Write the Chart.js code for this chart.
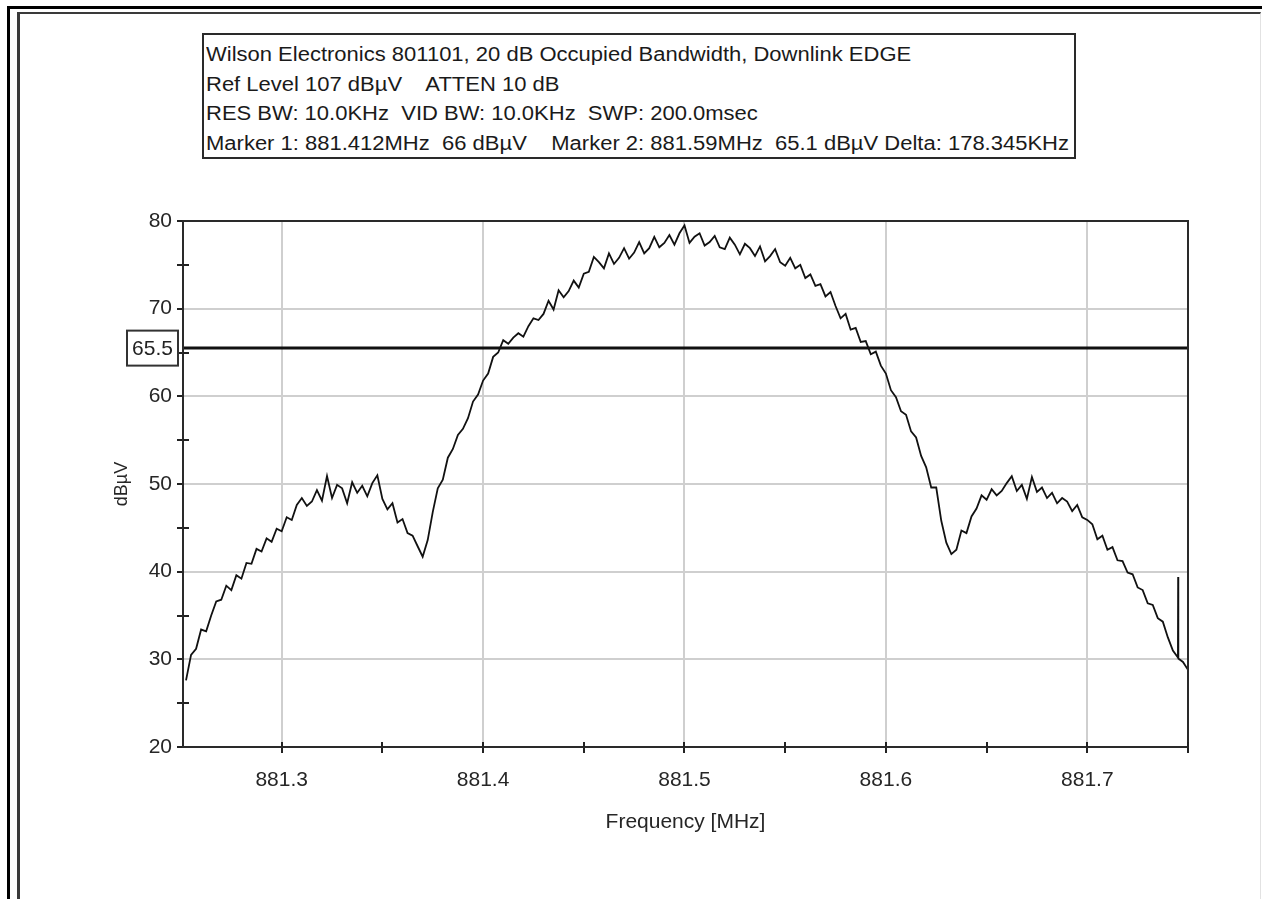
<!DOCTYPE html>
<html>
<head>
<meta charset="utf-8">
<script src="https://cdn.jsdelivr.net/npm/chart.js@4.4.1/dist/chart.umd.min.js"></script>
<style>
  html, body { margin: 0; padding: 0; background: #fff; }
  #wrap { position: relative; width: 1262px; height: 899px; overflow: hidden; background: #fff; }
  #outer { position: absolute; left: 7px; top: 6px; width: 1400px; height: 1000px; border-left: 3px solid #000; border-top: 3px solid #000; }
  #inner { position: absolute; left: 17px; top: 12px; width: 1240px; height: 1000px; border-left: 3px solid #3a3a3a; border-top: 2px solid #3a3a3a; border-right: 1px solid #e2e2e2; }
  #c { position: absolute; left: 0; top: 0; }
  #info { position: absolute; left: 202px; top: 33px; width: 870px; height: 122px; border: 2px solid #2a2a2a; background: #fff;
          font-family: "Liberation Sans", Arial, sans-serif; font-size: 20px; color: #1a1a1a; }
  #info .ln { position: absolute; left: 2px; white-space: pre; transform-origin: 0 50%; transform: scaleX(1.1); line-height: 24px; }
</style>
</head>
<body>
<div id="wrap">
  <div id="outer"></div>
  <div id="inner"></div>
  <canvas id="c" width="1262" height="899"></canvas>
  <div id="info"></div>
</div>
<script>
// ---------- data ----------
const infoLines = [
  "Wilson Electronics 801101, 20 dB Occupied Bandwidth, Downlink EDGE",
  "Ref Level 107 dB\u00b5V    ATTEN 10 dB",
  "RES BW: 10.0KHz  VID BW: 10.0KHz  SWP: 200.0msec",
  "Marker 1: 881.412MHz  66 dB\u00b5V    Marker 2: 881.59MHz  65.1 dB\u00b5V Delta: 178.345KHz"
];
const xTitle = "Frequency [MHz]";
const yTitle = "dB\u00b5V";

const frequencies = [
  881.2525, 881.2550, 881.2575, 881.2600, 881.2625, 881.2650, 881.2675, 881.2700, 881.2725, 881.2750,
  881.2775, 881.2800, 881.2825, 881.2850, 881.2875, 881.2900, 881.2925, 881.2950, 881.2975, 881.3000,
  881.3025, 881.3050, 881.3075, 881.3100, 881.3125, 881.3150, 881.3175, 881.3200, 881.3225, 881.3250,
  881.3275, 881.3300, 881.3325, 881.3350, 881.3375, 881.3400, 881.3425, 881.3450, 881.3475, 881.3500,
  881.3525, 881.3550, 881.3575, 881.3600, 881.3625, 881.3650, 881.3675, 881.3700, 881.3725, 881.3750,
  881.3775, 881.3800, 881.3825, 881.3850, 881.3875, 881.3900, 881.3925, 881.3950, 881.3975, 881.4000,
  881.4025, 881.4050, 881.4075, 881.4100, 881.4125, 881.4150, 881.4175, 881.4200, 881.4225, 881.4250,
  881.4275, 881.4300, 881.4325, 881.4350, 881.4375, 881.4400, 881.4425, 881.4450, 881.4475, 881.4500,
  881.4525, 881.4550, 881.4575, 881.4600, 881.4625, 881.4650, 881.4675, 881.4700, 881.4725, 881.4750,
  881.4775, 881.4800, 881.4825, 881.4850, 881.4875, 881.4900, 881.4925, 881.4950, 881.4975, 881.5000,
  881.5025, 881.5050, 881.5075, 881.5100, 881.5125, 881.5150, 881.5175, 881.5200, 881.5225, 881.5250,
  881.5275, 881.5300, 881.5325, 881.5350, 881.5375, 881.5400, 881.5425, 881.5450, 881.5475, 881.5500,
  881.5525, 881.5550, 881.5575, 881.5600, 881.5625, 881.5650, 881.5675, 881.5700, 881.5725, 881.5750,
  881.5775, 881.5800, 881.5825, 881.5850, 881.5875, 881.5900, 881.5925, 881.5950, 881.5975, 881.6000,
  881.6025, 881.6050, 881.6075, 881.6100, 881.6125, 881.6150, 881.6175, 881.6200, 881.6225, 881.6250,
  881.6275, 881.6300, 881.6325, 881.6350, 881.6375, 881.6400, 881.6425, 881.6450, 881.6475, 881.6500,
  881.6525, 881.6550, 881.6575, 881.6600, 881.6625, 881.6650, 881.6675, 881.6700, 881.6725, 881.6750,
  881.6775, 881.6800, 881.6825, 881.6850, 881.6875, 881.6900, 881.6925, 881.6950, 881.6975, 881.7000,
  881.7025, 881.7050, 881.7075, 881.7100, 881.7125, 881.7150, 881.7175, 881.7200, 881.7225, 881.7250,
  881.7275, 881.7300, 881.7325, 881.7350, 881.7375, 881.7400, 881.7425, 881.7450, 881.7451, 881.7452,
  881.7475, 881.7500
];
const levels = [
  27.6, 30.5, 31.2, 33.4, 33.2, 35.0, 36.6, 36.8, 38.4, 37.9,
  39.6, 39.2, 41.0, 40.9, 42.6, 42.3, 43.8, 43.4, 44.9, 44.6,
  46.2, 45.9, 47.6, 48.4, 47.5, 48.0, 49.3, 48.1, 50.9, 48.4,
  49.9, 49.5, 47.8, 50.2, 49.0, 49.8, 48.6, 50.1, 51.0, 48.3,
  47.1, 47.8, 45.6, 46.0, 44.4, 44.1, 42.9, 41.7, 43.6, 46.8,
  49.5, 50.5, 53.0, 54.0, 55.6, 56.3, 57.5, 59.4, 60.2, 61.8,
  62.6, 64.5, 65.0, 66.4, 66.0, 66.7, 67.2, 66.8, 68.0, 68.9,
  68.7, 69.4, 70.9, 69.9, 72.1, 71.3, 72.0, 73.2, 72.4, 74.0,
  74.2, 75.9, 75.3, 74.6, 76.3, 75.1, 75.8, 76.9, 75.7, 76.4,
  77.6, 76.3, 76.9, 78.2, 77.0, 77.5, 78.4, 77.3, 78.6, 79.5,
  77.5, 78.2, 78.6, 77.2, 77.6, 78.3, 77.0, 76.8, 78.1, 77.3,
  76.2, 77.4, 76.9, 76.0, 77.1, 75.4, 76.0, 76.8, 75.3, 74.9,
  75.8, 74.6, 75.0, 73.5, 73.9, 72.6, 72.8, 71.4, 71.9, 70.3,
  68.9, 69.4, 67.6, 67.8, 66.2, 66.3, 64.8, 65.1, 63.5, 62.6,
  60.7, 59.9, 58.3, 57.9, 56.0, 55.3, 53.2, 51.9, 49.6, 49.6,
  45.8, 43.3, 42.0, 42.5, 44.7, 44.4, 46.3, 47.2, 48.7, 48.2,
  49.4, 48.7, 49.2, 50.1, 50.9, 49.2, 49.9, 48.3, 50.8, 49.1,
  49.6, 48.4, 49.0, 47.8, 48.4, 48.0, 46.9, 47.6, 46.2, 45.9,
  45.4, 43.7, 44.1, 42.5, 42.8, 41.3, 41.2, 39.9, 39.7, 38.2,
  37.9, 36.4, 36.2, 34.7, 34.3, 32.5, 31.0, 30.2, 39.4, 30.1,
  29.7, 28.8
];
const thresholdLevel = 65.5;
const xMin = 881.251, xMax = 881.75;
const yMin = 20, yMax = 80;
const xMajorTicks = [881.3, 881.4, 881.5, 881.6, 881.7];
const xMinorTicks = [881.35, 881.45, 881.55, 881.65, 881.75];
const yMajorTicks = [20, 30, 40, 50, 60, 70, 80];
const yMinorTicks = [25, 35, 45, 55, 65, 75];

// ---------- info box (real DOM text) ----------
const info = document.getElementById('info');
infoLines.forEach((t, i) => {
  const d = document.createElement('div');
  d.className = 'ln';
  d.style.top = (7 + i * 29.5) + 'px';
  d.textContent = t;
  info.appendChild(d);
});

// ---------- chart ----------
const FONT = '"Liberation Sans", Arial, sans-serif';
const isIn = (v, arr) => arr.some(a => Math.abs(a - v) < 1e-6);

const tracePoints = frequencies.map((f, i) => ({ x: f, y: levels[i] }));
const thresholdPoints = [{ x: xMin, y: thresholdLevel }, { x: xMax, y: thresholdLevel }];

const framePlugin = {
  id: 'framePlugin',
  afterDraw(chart) {
    const { ctx, chartArea: a, scales: { x, y } } = chart;
    ctx.save();
    ctx.strokeStyle = '#2a2a2a';
    ctx.lineWidth = 2;
    ctx.strokeRect(a.left, a.top, a.right - a.left, a.bottom - a.top);
    ctx.strokeStyle = '#222';
    ctx.beginPath();
    yMinorTicks.forEach(v => { const py = Math.round(y.getPixelForValue(v)); ctx.moveTo(a.left, py); ctx.lineTo(a.left + 6, py); });
    xMajorTicks.concat(xMinorTicks).forEach(v => { const px = Math.round(x.getPixelForValue(v)); ctx.moveTo(px, a.bottom); ctx.lineTo(px, a.bottom - 5); });
    ctx.stroke();
    // threshold label box
    const ty = y.getPixelForValue(thresholdLevel);
    const bw = 51, bh = 35, br = a.left - 5;
    ctx.fillStyle = '#fff';
    ctx.fillRect(br - bw, ty - bh / 2, bw, bh);
    ctx.lineWidth = 2;
    ctx.strokeStyle = '#333';
    ctx.strokeRect(br - bw, ty - bh / 2, bw, bh);
    ctx.fillStyle = '#222';
    ctx.font = '21px ' + FONT;
    ctx.textAlign = 'center';
    ctx.textBaseline = 'middle';
    ctx.fillText(String(thresholdLevel), br - bw / 2, ty + 1);
    ctx.restore();
  }
};

new Chart(document.getElementById('c'), {
  type: 'line',
  data: {
    datasets: [
      { data: tracePoints, borderColor: '#111', borderWidth: 1.8, pointRadius: 0, tension: 0, fill: false },
      { data: thresholdPoints, borderColor: '#111', borderWidth: 3, pointRadius: 0, tension: 0, fill: false }
    ]
  },
  options: {
    responsive: false,
    devicePixelRatio: 1,
    animation: false,
    events: [],
    layout: { padding: { left: 20, top: 221, right: 74, bottom: 0 } },
    plugins: { legend: { display: false }, tooltip: { enabled: false }, title: { display: false } },
    scales: {
      x: {
        type: 'linear',
        min: xMin, max: xMax,
        afterBuildTicks: s => { s.ticks = xMajorTicks.concat(xMinorTicks).sort((a, b) => a - b).map(v => ({ value: v })); },
        afterFit: s => { s.height = 152; },
        ticks: {
          autoSkip: false, maxRotation: 0, padding: 15,
          color: '#262626', font: { family: FONT, size: 21 },
          callback: v => isIn(v, xMajorTicks) ? v.toFixed(1) : ''
        },
        grid: {
          color: c => (c.tick && isIn(c.tick.value, xMajorTicks)) ? '#cfcfcf' : 'rgba(0,0,0,0)',
          lineWidth: 2, tickColor: '#222', tickLength: 6, tickWidth: 2, drawTicks: true
        },
        border: { display: true, color: '#2a2a2a', width: 2 },
        title: { display: true, text: xTitle, color: '#262626', font: { family: FONT, size: 21 }, padding: { top: 0, bottom: 64 } }
      },
      y: {
        type: 'linear',
        min: yMin, max: yMax,
        afterBuildTicks: s => { s.ticks = yMajorTicks.concat(yMinorTicks).sort((a, b) => a - b).map(v => ({ value: v })); },
        afterFit: s => { s.width = 163; },
        ticks: {
          autoSkip: false, padding: 5,
          color: '#262626', font: { family: FONT, size: 21 },
          callback: v => isIn(v, yMajorTicks) ? String(v) : ''
        },
        grid: {
          color: c => (c.tick && isIn(c.tick.value, yMajorTicks)) ? '#cfcfcf' : 'rgba(0,0,0,0)',
          lineWidth: 2, tickColor: '#222', tickLength: 6, tickWidth: 2, drawTicks: true
        },
        border: { display: true, color: '#2a2a2a', width: 2 },
        title: { display: true, text: yTitle, color: '#262626', font: { family: FONT, size: 18 }, padding: { top: 91, bottom: 0 } }
      }
    }
  },
  plugins: [framePlugin]
});
</script>
</body>
</html>
